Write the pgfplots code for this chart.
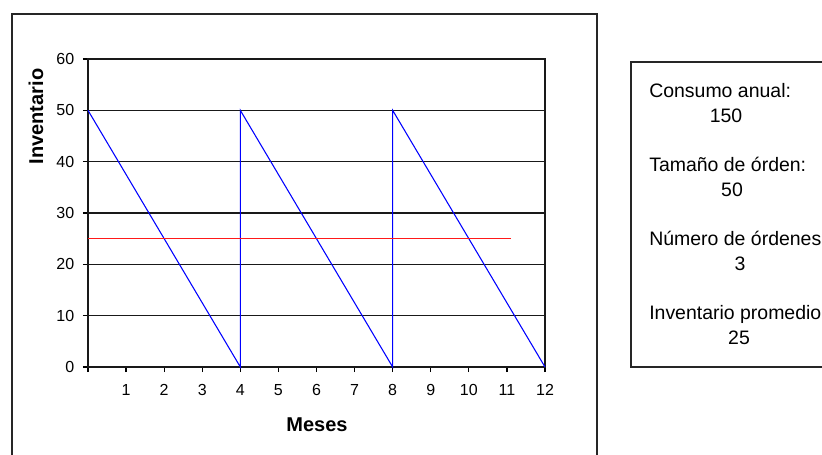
\documentclass[border=0pt]{standalone}
\usepackage{pgfplots}
\pgfplotsset{compat=1.18}
\usepackage{fontspec}
\setmainfont{Liberation Sans}
\begin{document}
\begin{tikzpicture}[x=0.75pt,y=0.75pt]
\useasboundingbox (0,0) rectangle (822,454);
\clip (0,0) rectangle (822,454);
% chart area frame
\draw[black!85,line width=0.9pt] (12,440) rectangle (597,-16);
% text box
\draw[black!85,line width=0.9pt] (631,392) rectangle (840,87);
\begin{axis}[
  at={(66pt,65.25pt)}, anchor=south west,
  scale only axis, width=342.75pt, height=231pt,
  xmin=0, xmax=12, ymin=0, ymax=60,
  xtick={0,1,...,12},
  xticklabels={{},1,2,3,4,5,6,7,8,9,10,11,12},
  ytick={0,10,...,60},
  xtick pos=lower, ytick pos=left,
  tick align=outside, major tick length=3.75pt,
  tick style={black,line width=0.9pt},
  ymajorgrids, grid style={black!90,line width=1.1pt},
  axis line style={black!90,line width=1.1pt},
  /pgf/number format/assume math mode=true,
  tick label style={font=\fontsize{12}{14}\selectfont},
  xticklabel style={yshift=-6pt},
  yticklabel style={xshift=-3pt},
  clip=false,
]
\addplot[blue,line width=0.8pt] coordinates {(0,50) (4,0) (4,50) (8,0) (8,50) (12,0)};
\addplot[red!90,line width=0.8pt] coordinates {(0,25) (11.1,25)};
\end{axis}
\node[anchor=base,font=\fontsize{15}{18}\selectfont\bfseries] at (317,22) {Meses};
\node[anchor=base,rotate=90,font=\fontsize{15}{18}\selectfont\bfseries] at (43,337.5) {Inventario};
\begin{scope}[every node/.style={font=\fontsize{14.6}{17}\selectfont,inner sep=0pt}]
\node[anchor=base west] at (649,356) {Consumo anual:};
\node[anchor=base] at (726,331) {150};
\node[anchor=base west] at (649,282) {Tamaño de órden:};
\node[anchor=base] at (732,257) {50};
\node[anchor=base west] at (649,208) {Número de órdenes};
\node[anchor=base] at (740,183) {3};
\node[anchor=base west] at (649,134) {Inventario promedio:};
\node[anchor=base] at (739,109) {25};
\end{scope}
\end{tikzpicture}
\end{document}
